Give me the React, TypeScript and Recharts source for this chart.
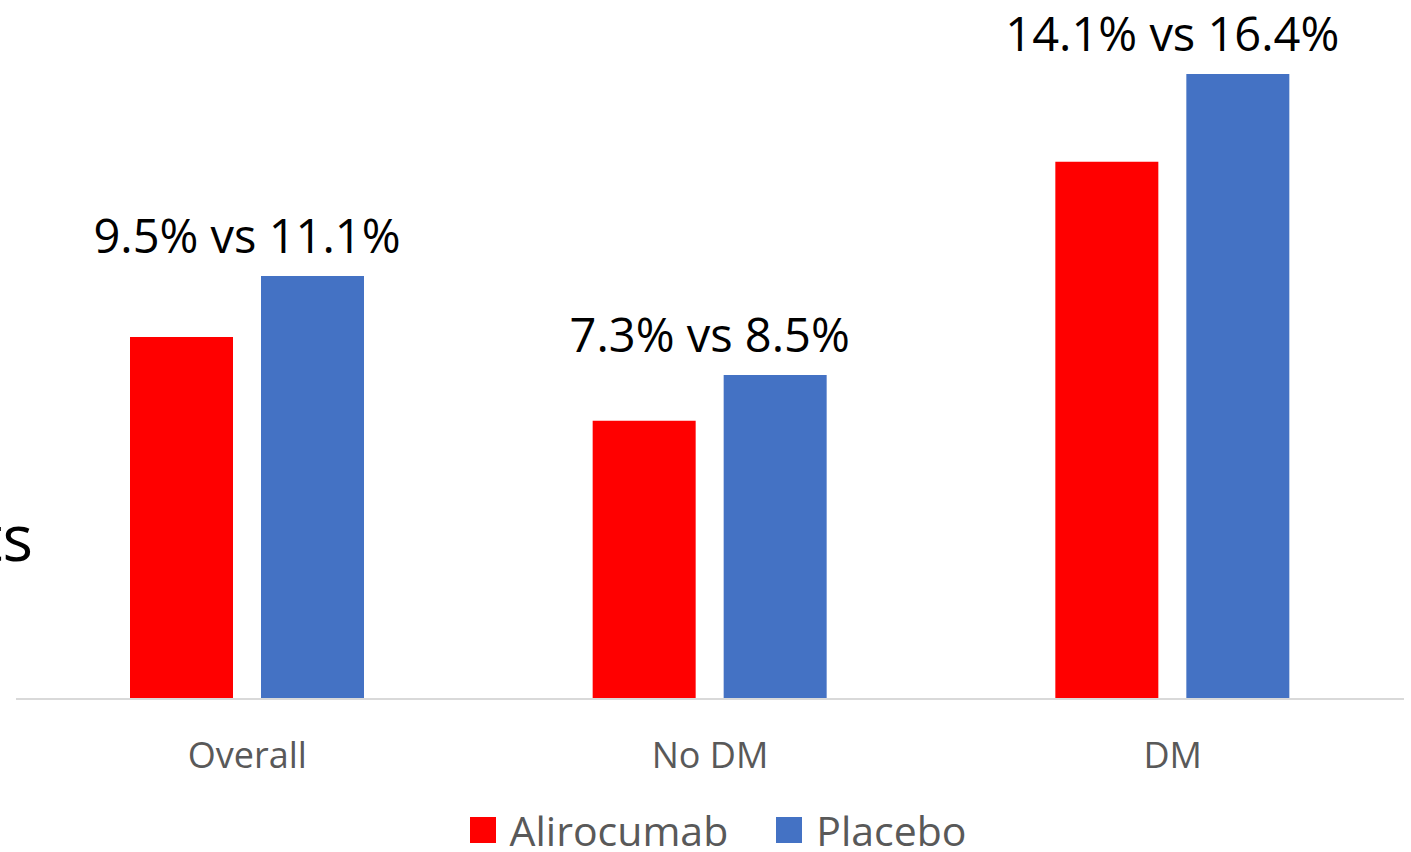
import { BarChart, Bar, XAxis, YAxis, Legend, LabelList } from 'recharts'

// Event rates by diabetes status, alirocumab vs placebo (percent of patients).
const CATEGORIES = ['Overall', 'No DM', 'DM']
const ALIROCUMAB = [9.5, 7.3, 14.1]
const PLACEBO = [11.1, 8.5, 16.4]

const RED = '#ff0000'
const BLUE = '#4472c4'
const FONT = '"Open Sans", "Noto Sans", sans-serif'

const data = CATEGORIES.map((name, i) => ({
  name,
  alirocumab: ALIROCUMAB[i],
  placebo: PLACEBO[i],
}))

const BAR_GAP = 28

// "a% vs b%" sitting above each pair, centred on the group
function PairLabel(props: any) {
  const { x, y, index } = props
  const row = data[index]
  if (!row) return null
  const cx = Number(x) - BAR_GAP / 2
  return (
    <text
      x={cx}
      y={Number(y) - 23}
      textAnchor="middle"
      fill="#000"
      fontSize={47}
      fontFamily={FONT}
    >
      {`${row.alirocumab.toFixed(1)}% vs ${row.placebo.toFixed(1)}%`}
    </text>
  )
}

function LegendContent() {
  const items = [
    { label: 'Alirocumab', color: RED },
    { label: 'Placebo', color: BLUE },
  ]
  return (
    <div
      style={{
        display: 'flex',
        justifyContent: 'center',
        alignItems: 'center',
        height: 44,
        gap: 48,
        paddingLeft: 16,
        fontFamily: FONT,
        fontSize: 41,
        color: '#595959',
      }}
    >
      {items.map((it) => (
        <div key={it.label} style={{ display: 'flex', alignItems: 'center', gap: 14 }}>
          <span style={{ width: 26, height: 26, background: it.color, display: 'inline-block' }} />
          <span style={{ lineHeight: '44px' }}>{it.label}</span>
        </div>
      ))}
    </div>
  )
}

export default function App() {
  return (
    <div
      style={{
        position: 'absolute',
        left: 0,
        top: 0,
        width: 1411,
        height: 852,
        background: '#fff',
        overflow: 'hidden',
      }}
    >
      {/* tail of the slide's side caption */}
      <span
        style={{
          position: 'absolute',
          right: 1411 - 33,
          top: 505,
          fontFamily: FONT,
          fontSize: 64,
          lineHeight: 1,
          color: '#000',
          whiteSpace: 'nowrap',
        }}
      >
        ts
      </span>
      <BarChart
        width={1411}
        height={852}
        data={data}
        margin={{ top: 13, right: 7, left: 16, bottom: 0 }}
        barGap={BAR_GAP}
        barSize={103}
      >
        <XAxis
          dataKey="name"
          height={109}
          axisLine={{ stroke: '#d9d9d9', strokeWidth: 2 }}
          tickLine={false}
          tickSize={0}
          tickMargin={43}
          tick={{ fill: '#595959', fontSize: 36, fontFamily: FONT }}
        />
        <YAxis hide domain={[0, 18]} />
        <Legend verticalAlign="bottom" height={44} content={<LegendContent />} />
        <Bar dataKey="alirocumab" name="Alirocumab" fill={RED} isAnimationActive={false} />
        <Bar dataKey="placebo" name="Placebo" fill={BLUE} isAnimationActive={false}>
          <LabelList dataKey="placebo" content={<PairLabel />} />
        </Bar>
      </BarChart>
    </div>
  )
}
